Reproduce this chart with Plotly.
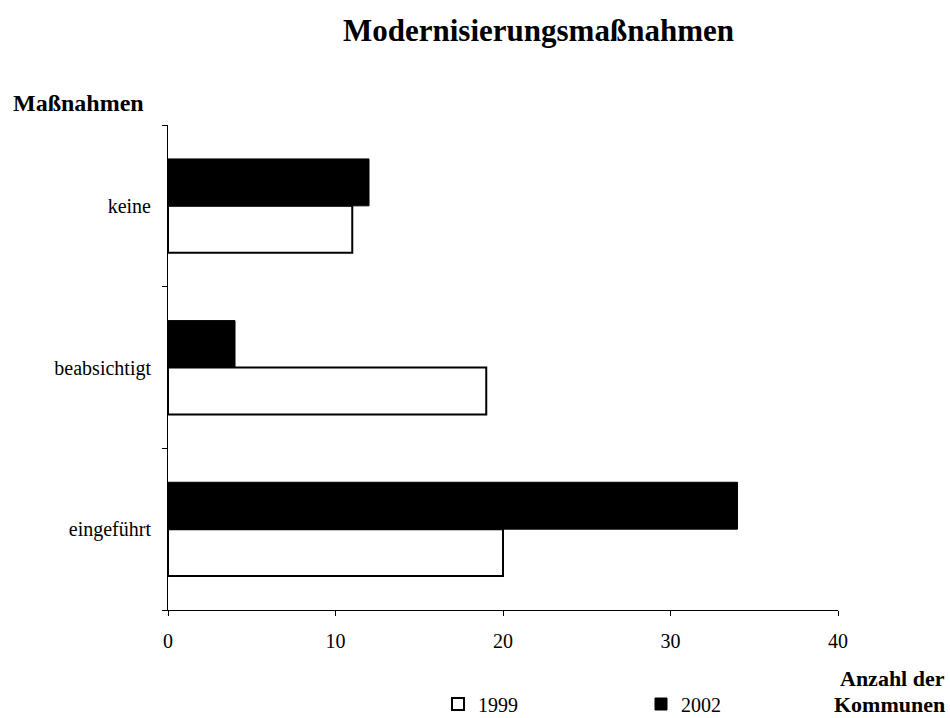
import plotly.graph_objects as go

categories = ["eingeführt", "beabsichtigt", "keine"]
values_1999 = [20, 19, 11]
values_2002 = [34, 4, 12]
x_ticks = [0, 10, 20, 30, 40]

FONT = "Liberation Serif"
L, R, T, B = 168, 838, 125, 610
PW, PH = R - L, B - T


def px(x):
    return (x - L) / PW


def py(y):
    return (B - y) / PH


fig = go.Figure()
fig.add_trace(go.Bar(
    y=categories, x=values_1999, name="1999", orientation="h",
    marker=dict(color="white", line=dict(color="black", width=2)),
))
fig.add_trace(go.Bar(
    y=categories, x=values_2002, name="2002", orientation="h",
    marker=dict(color="black", line=dict(color="black", width=1)),
))

fig.update_layout(
    width=950, height=718,
    margin=dict(l=L, r=950 - R, t=T, b=718 - B, autoexpand=False),
    paper_bgcolor="white", plot_bgcolor="white",
    font=dict(family=FONT, size=20, color="black"),
    barmode="group", bargap=0.42, bargroupgap=0,
    showlegend=True,
    legend=dict(
        orientation="h", x=px(438), xanchor="left", y=py(704), yanchor="middle",
        entrywidth=158, entrywidthmode="pixels",
        font=dict(family=FONT, size=20), itemwidth=30,
        traceorder="normal", bgcolor="rgba(0,0,0,0)",
    ),
    xaxis=dict(
        range=[0, 40], tickvals=x_ticks, ticks="outside", ticklen=5,
        tickcolor="black", showline=True, linecolor="black", linewidth=1,
        showgrid=False, zeroline=False, ticklabelstandoff=8, automargin=False,
        tickfont=dict(family=FONT, size=20),
    ),
    yaxis=dict(
        type="category", categoryorder="array", categoryarray=categories,
        tickson="boundaries", ticks="outside", ticklen=5, tickcolor="black",
        showline=True, linecolor="black", linewidth=1, showgrid=False,
        ticklabelstandoff=12, automargin=False, tickfont=dict(family=FONT, size=20),
    ),
    annotations=[
        dict(text="<b>Modernisierungsmaßnahmen</b>", xref="paper", yref="paper",
             x=px(538), y=py(30), xanchor="center", yanchor="middle",
             showarrow=False, font=dict(family=FONT, size=31)),
        dict(text="<b>Maßnahmen</b>", xref="paper", yref="paper",
             x=px(11), y=py(103), xanchor="left", yanchor="middle",
             showarrow=False, font=dict(family=FONT, size=24)),
        dict(text="<b>Anzahl der</b>", xref="paper", yref="paper",
             x=px(947), y=py(678), xanchor="right", yanchor="middle",
             showarrow=False, font=dict(family=FONT, size=22)),
        dict(text="<b>Kommunen</b>", xref="paper", yref="paper",
             x=px(947), y=py(704), xanchor="right", yanchor="middle",
             showarrow=False, font=dict(family=FONT, size=22)),
    ],
)

fig.write_html("out.html", post_script="document.body.style.margin='0';",
               config={"displayModeBar": False})
